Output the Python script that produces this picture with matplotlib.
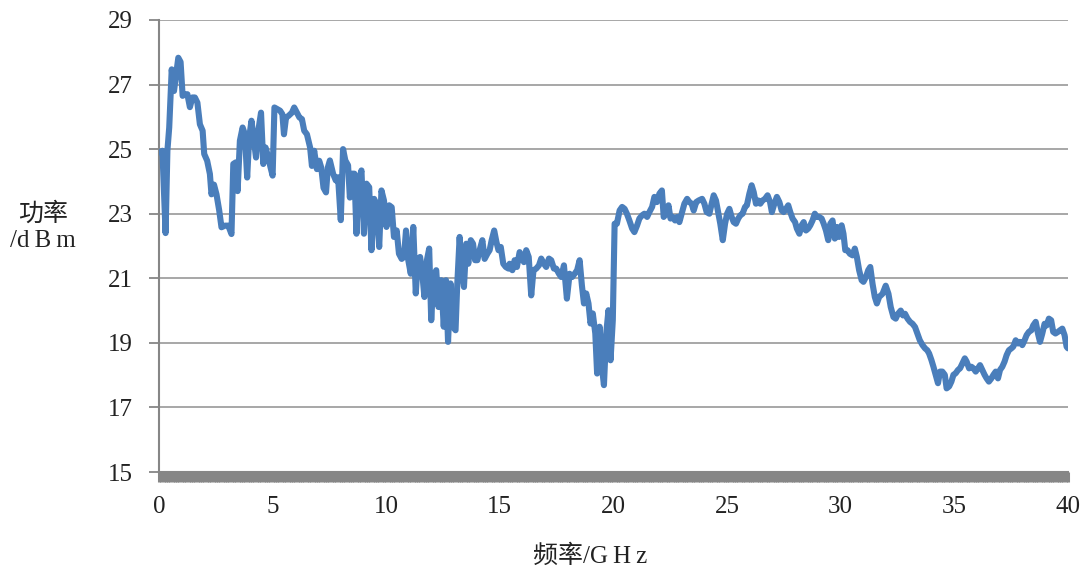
import matplotlib
matplotlib.use("Agg")
import matplotlib.pyplot as plt
from matplotlib.ticker import MultipleLocator

# frequency (GHz) and power (dBm)
freq = [
    0.0, 0.15, 0.29, 0.37, 0.45, 0.56, 0.66, 0.75, 0.85, 0.95, 1.04, 1.13, 1.25, 1.36, 1.47,
    1.58, 1.69, 1.80, 1.92, 1.99, 2.12, 2.24, 2.31, 2.42, 2.53, 2.65, 2.75, 2.90, 3.05, 3.19,
    3.27, 3.38, 3.46, 3.56, 3.68, 3.78, 3.88, 3.97, 4.07, 4.18, 4.27, 4.37, 4.49, 4.59, 4.69,
    4.81, 4.91, 5.00, 5.08, 5.21, 5.33, 5.43, 5.50, 5.59, 5.70, 5.85, 5.95, 6.07, 6.18, 6.29,
    6.39, 6.51, 6.58, 6.65, 6.73, 6.83, 6.95, 7.05, 7.14, 7.24, 7.35, 7.43,
    7.52, 7.66, 7.78, 7.88, 8.00, 8.10, 8.20, 8.32, 8.40, 8.50, 8.60, 8.69, 8.79, 8.91, 9.02,
    9.13, 9.25, 9.35, 9.47, 9.58, 9.69, 9.79, 9.90, 10.01, 10.13, 10.24, 10.34, 10.46, 10.56,
    10.68, 10.78, 10.87, 10.97, 11.08, 11.19, 11.30, 11.39, 11.49, 11.60, 11.68, 11.79, 11.89,
    11.98, 12.08, 12.20, 12.30, 12.42, 12.53, 12.63, 12.72, 12.83, 12.93, 13.05, 13.12, 13.23,
    13.31, 13.42, 13.52, 13.61, 13.72, 13.82, 13.91, 14.01, 14.11, 14.23, 14.33, 14.45, 14.55,
    14.64, 14.75, 14.85, 14.94, 15.04, 15.15, 15.26, 15.38,
    15.43, 15.55, 15.65, 15.75, 15.87, 15.97, 16.06, 16.16, 16.27, 16.38, 16.48, 16.60, 16.72,
    16.82, 16.94, 17.04, 17.16, 17.26, 17.38, 17.48, 17.60, 17.70, 17.82, 17.95, 18.07, 18.18,
    18.29, 18.40, 18.51, 18.61, 18.70, 18.80, 18.90, 18.99, 19.09, 19.20, 19.28, 19.39, 19.49,
    19.58, 19.68, 19.78, 19.87, 19.97, 20.05, 20.15, 20.27, 20.38, 20.49, 20.59, 20.70, 20.82,
    20.92, 21.04, 21.14, 21.26, 21.36, 21.48, 21.58, 21.70, 21.80, 21.91, 22.02, 22.13, 22.21,
    22.32, 22.42, 22.51, 22.61, 22.71, 22.80, 22.90, 23.00, 23.12, 23.24, 23.34, 23.44, 23.53,
    23.64, 23.75,
    23.90, 24.00, 24.10, 24.22, 24.32, 24.41, 24.51, 24.62, 24.70, 24.81, 24.91, 25.00, 25.10,
    25.20, 25.29, 25.39, 25.49, 25.58, 25.68, 25.79, 25.87, 25.98, 26.08, 26.17, 26.27, 26.37,
    26.46, 26.56, 26.67, 26.78, 26.89, 26.97, 27.08, 27.19, 27.30, 27.40, 27.49, 27.59, 27.69,
    27.78, 27.88, 27.99, 28.07, 28.18, 28.28, 28.37, 28.47, 28.57, 28.66, 28.76, 28.86, 28.95,
    29.05, 29.16, 29.25, 29.35, 29.45, 29.54, 29.64, 29.74, 29.83, 29.93, 30.04, 30.12, 30.20,
    30.30, 30.40, 30.52, 30.62, 30.71, 30.81, 30.92, 31.00, 31.11, 31.21, 31.30, 31.40, 31.50,
    31.59,
    31.69, 31.84, 31.98, 32.10, 32.20, 32.32, 32.42, 32.52, 32.64, 32.74, 32.83, 32.94, 33.05,
    33.16, 33.27, 33.37, 33.48, 33.60, 33.71, 33.81, 33.89, 33.99, 34.08, 34.18, 34.28, 34.37,
    34.47, 34.58, 34.66, 34.77, 34.87, 34.96, 35.06, 35.16, 35.25, 35.35, 35.46, 35.54, 35.65,
    35.75, 35.84, 35.94, 36.04, 36.13, 36.23, 36.33, 36.42, 36.52, 36.63, 36.72, 36.82, 36.92,
    37.01, 37.11, 37.21, 37.30, 37.40, 37.51, 37.59, 37.70, 37.80, 37.89, 37.99, 38.09, 38.18,
    38.28, 38.39, 38.47, 38.58, 38.68, 38.77, 38.87, 38.97, 39.06, 39.16, 39.26, 39.35, 39.45,
    39.56, 39.65, 39.75, 39.85, 39.94, 40.0,
]
power = [
    24.90, 24.95, 22.40, 24.95, 25.67, 27.47, 26.80, 27.30, 27.83, 27.70, 26.65, 26.70, 26.70,
    26.30, 26.60, 26.60, 26.44, 25.77, 25.57, 24.85, 24.64, 24.23, 23.60, 23.90, 23.60, 23.10,
    22.58, 22.63, 22.63, 22.37, 24.54, 24.59, 23.70, 25.26, 25.67, 25.46, 24.12, 25.36, 25.88,
    25.26, 24.74, 25.57, 26.13, 24.54, 25.05, 24.74, 24.43, 24.18, 26.29, 26.24, 26.19, 26.08,
    25.46, 25.98, 26.03, 26.13, 26.29, 26.13, 25.98, 25.93, 25.57, 25.46, 25.26, 25.05, 24.48,
    24.95, 24.38, 24.64, 24.43, 23.80, 23.66, 24.43,
    24.65, 24.24, 24.03, 24.13, 22.80, 25.00, 24.65, 24.50, 23.50, 24.24, 24.24, 22.38, 24.03,
    24.34, 22.38, 23.93, 23.82, 21.87, 23.46, 23.20, 21.97, 23.72, 23.41, 22.59, 23.26, 23.20,
    22.28, 22.48, 21.76, 21.60, 21.66, 22.48, 21.56, 21.14, 22.59, 20.53, 21.56, 21.66, 21.04,
    20.42, 21.56, 21.92, 19.70, 21.04, 21.25, 20.11, 20.94, 19.50, 20.94, 19.03, 20.84, 19.50,
    19.39, 20.73, 22.28, 21.35, 20.73, 22.07, 21.45, 22.18, 22.07, 21.56, 21.56, 21.87, 22.18,
    21.60, 21.76, 21.87, 22.18, 22.48, 22.12, 21.87, 21.97, 21.45, 21.35, 21.30,
    21.45, 21.25, 21.56, 21.35, 21.81, 21.66, 21.50, 21.87, 21.66, 20.47, 21.25, 21.30, 21.40,
    21.61, 21.45, 21.35, 21.61, 21.56, 21.30, 21.30, 21.14, 21.04, 21.40, 20.37, 21.14, 21.04,
    21.14, 21.25, 21.56, 20.78, 20.22, 20.53, 20.22, 19.60, 19.91, 19.29, 18.05, 19.50, 18.26,
    17.69, 19.29, 20.01, 18.46, 19.70, 22.69, 22.69, 23.10, 23.21, 23.15, 23.00, 22.79, 22.54,
    22.43, 22.64, 22.85, 22.95, 23.00, 22.90, 23.05, 23.21, 23.52, 23.36, 23.62, 23.72, 22.90,
    23.00, 23.26, 22.85, 22.90, 22.79, 22.90, 22.74, 23.00, 23.31, 23.46, 23.36, 23.31, 23.10,
    23.36, 23.41,
    23.46, 23.31, 23.05, 23.00, 23.31, 23.57, 23.41, 23.00, 22.69, 22.18, 22.69, 23.00, 23.15,
    22.90, 22.74, 22.69, 22.85, 22.95, 23.00, 23.21, 23.26, 23.62, 23.88, 23.67, 23.31, 23.41,
    23.31, 23.41, 23.46, 23.57, 23.36, 23.05, 23.31, 23.52, 23.36, 23.10, 23.05, 23.15, 23.26,
    23.05, 22.85, 22.74, 22.54, 22.38, 22.64, 22.74, 22.48, 22.54, 22.64, 22.79, 23.00, 22.90,
    22.90, 22.85, 22.69, 22.48, 22.18, 22.69, 22.79, 22.23, 22.59, 22.28, 22.64, 22.38, 21.87,
    21.87, 21.76, 21.71, 21.92, 21.66, 21.25, 20.94, 20.89, 21.04, 21.25, 21.35, 20.83, 20.42,
    20.22,
    20.42, 20.52, 20.77, 20.52, 20.11, 19.80, 19.75, 19.90, 20.00, 19.85, 19.90, 19.75, 19.65,
    19.59, 19.49, 19.29, 19.08, 18.93, 18.83, 18.77, 18.67, 18.47, 18.26, 18.01, 17.75, 18.11,
    18.11, 18.01, 17.59, 17.65, 17.80, 18.01, 18.06, 18.16, 18.21, 18.36, 18.52, 18.42, 18.21,
    18.26, 18.21, 18.11, 18.21, 18.31, 18.16, 18.01, 17.90, 17.80, 17.90, 18.01, 18.11, 17.90,
    18.16, 18.26, 18.42, 18.62, 18.77, 18.83, 18.88, 19.08, 18.98, 19.03, 18.93, 19.08, 19.24,
    19.34, 19.39, 19.54, 19.65, 19.29, 19.03, 19.29, 19.59, 19.54, 19.75, 19.70, 19.34, 19.29,
    19.34, 19.39, 19.44, 19.24, 18.88, 18.83,
]

x_ticks = [0, 5, 10, 15, 20, 25, 30, 35, 40]
y_ticks = [15, 17, 19, 21, 23, 25, 27, 29]

fonts = ['Liberation Serif', 'Noto Sans CJK SC']
axis_gray = '#868686'

fig = plt.figure(figsize=(10.86, 5.74), dpi=100)
ax = fig.add_axes([0.1464, 0.1777, 0.8370, 0.7875])

ax.plot(freq, power, color='#4a7ebb', linewidth=4.4, solid_joinstyle='round',
        solid_capstyle='round', zorder=3)

ax.set_xlim(0, 40)
ax.set_ylim(15, 29)
ax.set_xticks(x_ticks)
ax.set_yticks(y_ticks)
# dense category-style ticks make the grey band under the x axis
ax.xaxis.set_minor_locator(MultipleLocator(0.1))
ax.yaxis.grid(True, color='#a0a0a0', linewidth=1.3)
ax.set_axisbelow(True)

for side in ['top', 'right']:
    ax.spines[side].set_visible(False)
for side in ['left', 'bottom']:
    ax.spines[side].set_color(axis_gray)
    ax.spines[side].set_linewidth(1.5)

ax.tick_params(axis='y', which='major', direction='out', length=7, width=1.3,
               color=axis_gray, pad=12, labelsize=18, labelcolor='#222222')
ax.tick_params(axis='x', which='both', direction='out', length=7, width=2.2,
               color=axis_gray, pad=10, labelsize=18, labelcolor='#222222')
for lab in ax.get_xticklabels() + ax.get_yticklabels():
    lab.set_family(fonts)

fig.text(590 / 1086, 1 - 556 / 574, '频率/G\u2009H\u2009z', family=fonts, fontsize=18,
         ha='center', va='center', color='#222222')
fig.text(43 / 1086, 1 - 227 / 574, '功率\n/d\u2009B\u2009m', family=fonts, fontsize=18,
         ha='center', va='center', color='#222222', linespacing=1.3)

fig.savefig('out.png', dpi=100)
